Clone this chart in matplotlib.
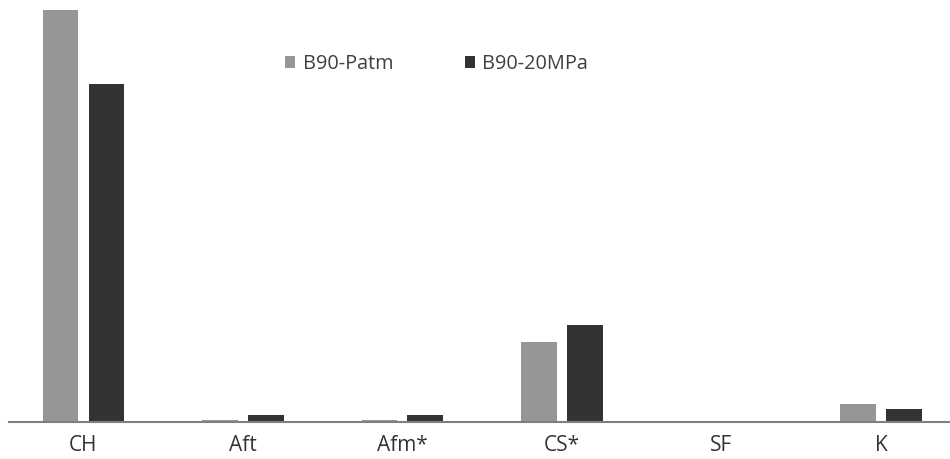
import numpy as np
import matplotlib
matplotlib.use("Agg")
import matplotlib.pyplot as plt

categories = ["CH", "Aft", "Afm*", "CS*", "SF", "K"]
patm = [41.2, 0.25, 0.2, 8.0, 0.0, 1.8]
mpa20 = [33.8, 0.7, 0.7, 9.7, 0.0, 1.3]

plt.rcParams["font.family"] = ["Open Sans", "DejaVu Sans"]

fig = plt.figure(figsize=(9.5, 4.59), dpi=100)
ax = fig.add_axes([9 / 950, 1 - 422 / 459, 941 / 950, 422 / 459])

x = np.arange(len(categories))
w = 0.223
ax.bar(x - 0.143, patm, w, color="#969696", label="B90-Patm")
ax.bar(x + 0.143, mpa20, w, color="#333333", label="B90-20MPa")

ax.set_xlim(-0.467, 5.433)
ax.set_ylim(0, 42.2)
ax.set_xticks(x)
ax.set_xticklabels(categories, fontsize=15, color="#333333")
ax.tick_params(axis="x", length=0, pad=9.5)
ax.set_yticks([])
for s in ("top", "right", "left"):
    ax.spines[s].set_visible(False)
ax.spines["bottom"].set_color("#7f7f7f")
ax.spines["bottom"].set_linewidth(1.5)

ax.legend(loc="center left", bbox_to_anchor=(0.293, 0.848), ncol=2,
          frameon=False, fontsize=14.3, handlelength=0.5, handleheight=0.6,
          columnspacing=3.6, handletextpad=0.4, borderpad=0, borderaxespad=0,
          labelcolor="#404040")

fig.savefig("out.png", dpi=100)
